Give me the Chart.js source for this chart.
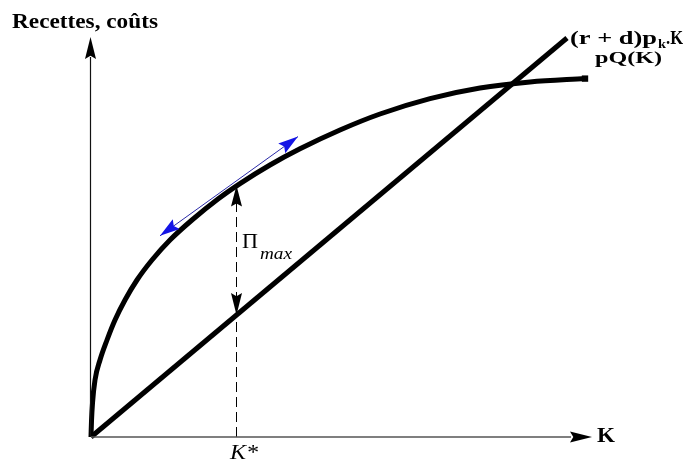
<!DOCTYPE html>
<html lang="fr">
    <head>
        <meta charset="UTF-8" />
        <title>Recettes et coûts</title>
        <script src="https://cdn.jsdelivr.net/npm/chart.js"></script>
        <style>
            html, body { margin: 0; padding: 0; background: #fff; }
            #chart { display: block; }
        </style>
    </head>
    <body>
        <canvas id="chart" width="684" height="460"></canvas>
        <script>
            // courbe de recette pQ(K)
            const kValues = [0, 0.1, 0.3, 0.8, 1.8, 3.2, 4.8, 6.8, 9.2, 12.2, 15.8, 20.2, 25.4, 29.8, 35.8, 41.8, 49.8, 57.8, 67.8, 77.8, 87.8, 98.8];
            const revenueValues = [0, 4, 8.5, 14.25, 19.25, 24.25, 29.25, 34.25, 39.25, 44.25, 49.25, 54.25, 59.5, 63.35, 68, 72.05, 76.75, 80.75, 84.6, 87.25, 88.75, 89.6];
            // droite de coût (r + d)pk.K
            const costK = [0, 95.2];
            const costValues = [0, 99.75];
            // tangente au point K*
            const tangentK = [13.8, 41.4];
            const tangentValues = [50.3, 75.1];
            // K* et profit maximal
            const kStar = 29.1;
            const piTop = 63.1;
            const piBottom = 30.5;

            const toPoints = (xs, ys) => xs.map((x, i) => ({ x: x, y: ys[i] }));

            function arrowHead(ctx, x0, y0, x1, y1, len, width, color) {
                const a = Math.atan2(y1 - y0, x1 - x0);
                ctx.save();
                ctx.translate(x1, y1);
                ctx.rotate(a);
                ctx.fillStyle = color;
                ctx.beginPath();
                ctx.moveTo(0, 0);
                ctx.lineTo(-len, -width / 2);
                ctx.lineTo(-len * 0.85, 0);
                ctx.lineTo(-len, width / 2);
                ctx.closePath();
                ctx.fill();
                ctx.restore();
            }

            function stretchText(ctx, text, font, x, y, w) {
                ctx.save();
                ctx.font = font;
                const m = ctx.measureText(text).width;
                ctx.translate(x, y);
                ctx.scale(w / m, 1);
                ctx.fillText(text, 0, 0);
                ctx.restore();
            }

            const decorations = {
                id: "decorations",
                afterDatasetsDraw(chart) {
                    const ctx = chart.ctx;
                    const xs = chart.scales.x;
                    const ys = chart.scales.y;
                    const px = (v) => xs.getPixelForValue(v);
                    const py = (v) => ys.getPixelForValue(v);

                    // flèches des axes
                    arrowHead(ctx, px(-0.1), py(0), px(-0.1), py(100), 22, 11, "#000");
                    arrowHead(ctx, px(0), py(0), px(100.2), py(0), 22, 11, "#000");

                    // flèches de la tangente
                    arrowHead(ctx, px(tangentK[1]), py(tangentValues[1]), px(tangentK[0]), py(tangentValues[0]), 20, 12, "#1414e6");
                    arrowHead(ctx, px(tangentK[0]), py(tangentValues[0]), px(tangentK[1]), py(tangentValues[1]), 20, 12, "#1414e6");

                    // flèches de Pi max
                    arrowHead(ctx, px(kStar), py(45), px(kStar), py(piTop) + 1, 21, 11, "#000");
                    arrowHead(ctx, px(kStar), py(45), px(kStar), py(piBottom), 22, 11, "#000");

                    ctx.fillStyle = "#000";
                    ctx.textBaseline = "alphabetic";
                    stretchText(ctx, "Recettes, coûts", "bold 22px 'Liberation Serif'", 12, 28, 146);
                    stretchText(ctx, "pQ(K)", "bold 17px 'Liberation Serif'", 595, 63, 67);
                    stretchText(ctx, "K", "bold 21px 'Liberation Serif'", 597, 442, 18);
                    stretchText(ctx, "K*", "italic 20px 'Liberation Serif'", 230, 459, 28);
                    stretchText(ctx, "Π", "22px 'Liberation Serif'", 242, 248, 16);
                    stretchText(ctx, "max", "italic 16px 'Liberation Serif'", 260, 259, 32);

                    stretchText(ctx, "(r + d)p", "bold 18px 'Liberation Serif'", 570, 44, 87);
                    stretchText(ctx, "k", "bold 13px 'Liberation Serif'", 658, 48, 8);
                    stretchText(ctx, ".K", "bold 18px 'Liberation Serif'", 666, 44, 17);
                },
            };

            new Chart(document.getElementById("chart"), {
                type: "scatter",
                data: {
                    datasets: [
                        {
                            label: "axe K",
                            data: toPoints([0, 96], [0, 0]),
                            showLine: true,
                            borderColor: "#555",
                            borderWidth: 1.5,
                            pointRadius: 0,
                            clip: false,
                        },
                        {
                            label: "axe recettes",
                            data: toPoints([-0.1, -0.1], [0, 95]),
                            showLine: true,
                            borderColor: "#111",
                            borderWidth: 1.2,
                            pointRadius: 0,
                            clip: false,
                        },
                        {
                            label: "K*",
                            data: toPoints([kStar, kStar], [0, piTop]),
                            showLine: true,
                            borderColor: "#000",
                            borderWidth: 1,
                            borderDash: [10, 5],
                            pointRadius: 0,
                            clip: false,
                        },
                        {
                            label: "(r + d)pk.K",
                            data: toPoints(costK, costValues),
                            showLine: true,
                            borderColor: "#000",
                            borderWidth: 5,
                            pointRadius: 0,
                            clip: false,
                        },
                        {
                            label: "pQ(K)",
                            data: toPoints(kValues, revenueValues),
                            showLine: true,
                            cubicInterpolationMode: "monotone",
                            borderColor: "#000",
                            borderWidth: 5,
                            pointRadius: kValues.map((v, i) => (i === kValues.length - 1 ? 4.5 : 0)),
                            pointStyle: "rect",
                            pointBackgroundColor: "#000",
                            pointBorderWidth: 0,
                            clip: false,
                        },
                        {
                            label: "tangente",
                            data: toPoints(tangentK, tangentValues),
                            showLine: true,
                            borderColor: "#2a2aa8",
                            borderWidth: 1,
                            pointRadius: 0,
                            clip: false,
                        },
                    ],
                },
                options: {
                    responsive: false,
                    animation: false,
                    layout: { padding: { left: 91, right: 93, top: 37, bottom: 23 } },
                    plugins: {
                        legend: { display: false },
                        tooltip: { enabled: false },
                    },
                    scales: {
                        x: { type: "linear", min: 0, max: 100, display: false },
                        y: { type: "linear", min: 0, max: 100, display: false },
                    },
                },
                plugins: [decorations],
            });
        </script>
    </body>
</html>
